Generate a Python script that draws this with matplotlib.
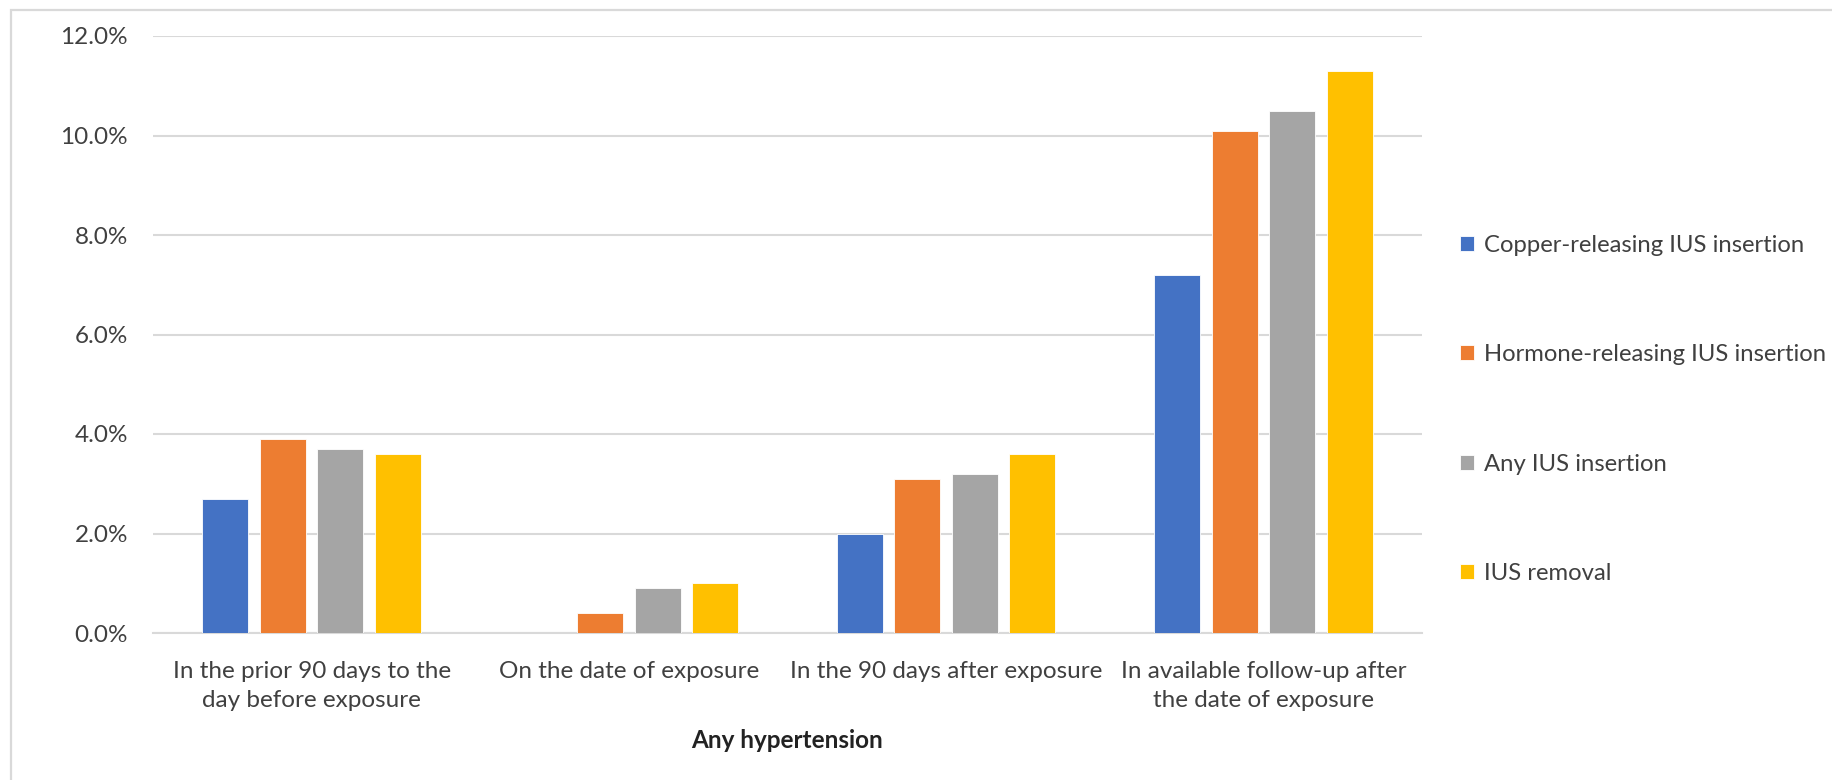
import matplotlib.pyplot as plt
import matplotlib.patches as mpatches
import numpy as np

plt.rcParams['font.family'] = ['Lato', 'DejaVu Sans']

categories = ['In the prior 90 days to the\nday before exposure',
              'On the date of exposure',
              'In the 90 days after exposure',
              'In available follow-up after\nthe date of exposure']
series = ['Copper-releasing IUS insertion', 'Hormone-releasing IUS insertion',
          'Any IUS insertion', 'IUS removal']
copper = [2.7, 0.0, 2.0, 7.2]
hormone = [3.9, 0.4, 3.1, 10.1]
any_ius = [3.7, 0.9, 3.2, 10.5]
removal = [3.6, 1.0, 3.6, 11.3]
colors = ['#4472C4', '#ED7D31', '#A5A5A5', '#FFC000']

text_color = '#404040'
grid_color = '#D9D9D9'

fig = plt.figure(figsize=(18.32, 7.8), dpi=100)
ax = fig.add_axes([153 / 1832, 147 / 780, (1422 - 153) / 1832, (633 - 36) / 780])

# outer chart frame (only top and left edges are visible in the crop)
fig.patches.append(mpatches.Rectangle((11 / 1832, -0.1), 1.2, 0.1 + (780 - 10) / 780,
                                      transform=fig.transFigure, fill=False,
                                      edgecolor=grid_color, linewidth=1.6))

index = np.arange(len(categories))
width = 0.145
pitch = 0.181
handles = []
for j, vals in enumerate([copper, hormone, any_ius, removal]):
    pct = np.array(vals) / 100
    rects = ax.bar(index + (j - 1.5) * pitch, pct, width=width, color=colors[j],
                   edgecolor='white', linewidth=0.6, zorder=3, label=series[j])
    handles.append(rects)

ax.set_xlim(-0.5, 3.5)
ax.set_ylim(0, 0.12)
ax.set_yticks(np.arange(0, 0.121, 0.02))
ax.set_yticklabels(['{:.1f}%'.format(v * 100) for v in np.arange(0, 0.121, 0.02)])
ax.set_xticks(index)
ax.set_xticklabels(categories, linespacing=1.48)

ax.grid(axis='y', color=grid_color, linewidth=1.5, zorder=0)
for s in ['top', 'right', 'left']:
    ax.spines[s].set_visible(False)
ax.spines['bottom'].set_color(grid_color)
ax.spines['bottom'].set_linewidth(1.5)
ax.tick_params(axis='both', length=0, colors=text_color, labelsize=17.5)
ax.tick_params(axis='x', pad=20)
ax.tick_params(axis='y', pad=18)

ax.set_xlabel('Any hypertension', fontsize=17.5, fontweight='bold', color='#222222', labelpad=13)

leg = fig.legend(handles=handles, labels=series, loc='center left',
                 bbox_to_anchor=(1460 / 1832, (780 - 409.5) / 780),
                 frameon=False, fontsize=17.2, labelspacing=3.7,
                 handlelength=0.6, handleheight=0.6, handletextpad=0.4,
                 borderpad=0, borderaxespad=0)
for t in leg.get_texts():
    t.set_color(text_color)

fig.savefig('out.png', dpi=100)
